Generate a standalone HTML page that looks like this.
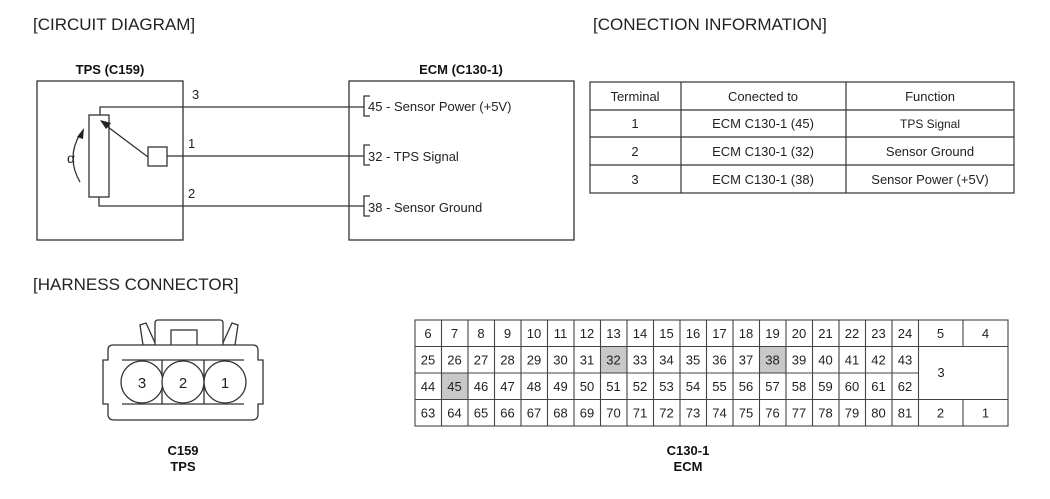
<!DOCTYPE html>
<html><head><meta charset="utf-8"><style>
html,body{margin:0;padding:0;background:#fff}
svg{display:block;font-family:"Liberation Sans",Arial,sans-serif}
</style></head><body>
<svg width="1050" height="499" viewBox="0 0 1050 499" xmlns="http://www.w3.org/2000/svg">
<g fill="#222" font-size="17">
<text x="33" y="30">[CIRCUIT DIAGRAM]</text>
<text x="593" y="30">[CONECTION INFORMATION]</text>
<text x="33" y="290">[HARNESS CONNECTOR]</text>
</g>
<g font-size="13" font-weight="bold" fill="#111" text-anchor="middle">
<text x="110" y="74">TPS (C159)</text>
<text x="461" y="74">ECM (C130-1)</text>
<text x="183" y="455">C159</text><text x="183" y="471">TPS</text>
<text x="688" y="455">C130-1</text><text x="688" y="471">ECM</text>
</g>
<g stroke="#333" stroke-width="1.3" fill="none">
<rect x="37" y="81" width="146" height="159"/>
<rect x="349" y="81" width="225" height="159"/>
<rect x="89" y="115" width="20" height="82"/>
<rect x="148" y="147" width="19" height="19"/>
<polyline points="100,115 100,107 364,107"/>
<line x1="167" y1="156" x2="364" y2="156"/>
<polyline points="99,197 99,206 364,206"/>
<polyline points="370,96 364,96 364,116 370,116"/>
<polyline points="370,145 364,145 364,165 370,165"/>
<polyline points="370,196 364,196 364,216 370,216"/>
<line x1="148" y1="157" x2="104" y2="124"/>
<path d="M80,182 Q66,158 80,134"/>
</g>
<polygon points="100,120 111,123 106,129" fill="#222"/>
<polygon points="77,137 84,128 83,139" fill="#222"/>
<g font-size="13" fill="#222">
<text x="192" y="99">3</text><text x="188" y="148">1</text><text x="188" y="198">2</text>
<text x="67" y="163" font-size="14">α</text>
<text x="368" y="111">45 - Sensor Power (+5V)</text>
<text x="368" y="161">32 - TPS Signal</text>
<text x="368" y="212">38 - Sensor Ground</text>
</g>
<g stroke="#333" stroke-width="1.2" fill="none">
<rect x="590" y="82" width="424" height="111"/>
<line x1="590" y1="110" x2="1014" y2="110"/>
<line x1="590" y1="137" x2="1014" y2="137"/>
<line x1="590" y1="165" x2="1014" y2="165"/>
<line x1="681" y1="82" x2="681" y2="193"/>
<line x1="846" y1="82" x2="846" y2="193"/>
</g>
<g font-size="13" fill="#222" text-anchor="middle">
<text x="635" y="101">Terminal</text><text x="763" y="101">Conected to</text><text x="930" y="101">Function</text>
<text x="635" y="128">1</text><text x="763" y="128">ECM C130-1 (45)</text><text x="930" y="128" font-size="12">TPS Signal</text>
<text x="635" y="156">2</text><text x="763" y="156">ECM C130-1 (32)</text><text x="930" y="156">Sensor Ground</text>
<text x="635" y="184">3</text><text x="763" y="184">ECM C130-1 (38)</text><text x="930" y="184">Sensor Power (+5V)</text>
</g>
<g stroke="#333" stroke-width="1.3" fill="#fff">
<path d="M143,345 L140,325 L146,323 L156,345 Z"/>
<path d="M222,345 L232,323 L238,325 L235,345 Z"/>
<path d="M155,345 L155,323 Q155,320 158,320 L220,320 Q223,320 223,323 L223,345"/>
<rect x="171" y="330" width="26" height="20"/>
<path d="M113,345 L253,345 Q258,345 258,350 L258,360 L263,360 L263,404 L258,404 L258,414 Q258,420 252,420 L114,420 Q108,420 108,414 L108,404 L103,404 L103,360 L108,360 L108,350 Q108,345 113,345 Z"/>
<line x1="162" y1="360" x2="162" y2="404"/><line x1="204" y1="360" x2="204" y2="404"/>
<line x1="122" y1="360" x2="244" y2="360"/><line x1="122" y1="404" x2="244" y2="404"/>
<circle cx="142" cy="382" r="21"/><circle cx="183" cy="382" r="21"/><circle cx="225" cy="382" r="21"/>
</g>
<g font-size="15" fill="#222" text-anchor="middle">
<text x="142" y="388">3</text><text x="183" y="388">2</text><text x="225" y="388">1</text>
</g>
<g fill="#c8c8c8">
<rect x="600.5" y="346.5" width="26.5" height="26.5"/>
<rect x="759.5" y="346.5" width="26.5" height="26.5"/>
<rect x="441.5" y="373" width="26.5" height="26.5"/>
</g>
<g stroke="#444" stroke-width="1.1" fill="none">
<rect x="415" y="320" width="593" height="106"/>
<line x1="415" y1="346.5" x2="918.5" y2="346.5"/>
<line x1="415" y1="373" x2="918.5" y2="373"/>
<line x1="415" y1="399.5" x2="1008" y2="399.5"/>
<line x1="918.5" y1="346.5" x2="1008" y2="346.5"/>
<path d="M441.5,320V426M468,320V426M494.5,320V426M521,320V426M547.5,320V426M574,320V426M600.5,320V426M627,320V426M653.5,320V426M680,320V426M706.5,320V426M733,320V426M759.5,320V426M786,320V426M812.5,320V426M839,320V426M865.5,320V426M892,320V426M918.5,320V426M963,320V346.5M963,399.5V426"/>
</g>
<g font-size="13" fill="#222" text-anchor="middle">
<text y="338"><tspan x="428">6</tspan><tspan x="454.5">7</tspan><tspan x="481">8</tspan><tspan x="507.5">9</tspan><tspan x="534">10</tspan><tspan x="560.5">11</tspan><tspan x="587">12</tspan><tspan x="613.5">13</tspan><tspan x="640">14</tspan><tspan x="666.5">15</tspan><tspan x="693">16</tspan><tspan x="719.5">17</tspan><tspan x="746">18</tspan><tspan x="772.5">19</tspan><tspan x="799">20</tspan><tspan x="825.5">21</tspan><tspan x="852">22</tspan><tspan x="878.5">23</tspan><tspan x="905">24</tspan><tspan x="940.5">5</tspan><tspan x="985.5">4</tspan></text>
<text y="364.5"><tspan x="428">25</tspan><tspan x="454.5">26</tspan><tspan x="481">27</tspan><tspan x="507.5">28</tspan><tspan x="534">29</tspan><tspan x="560.5">30</tspan><tspan x="587">31</tspan><tspan x="613.5">32</tspan><tspan x="640">33</tspan><tspan x="666.5">34</tspan><tspan x="693">35</tspan><tspan x="719.5">36</tspan><tspan x="746">37</tspan><tspan x="772.5">38</tspan><tspan x="799">39</tspan><tspan x="825.5">40</tspan><tspan x="852">41</tspan><tspan x="878.5">42</tspan><tspan x="905">43</tspan></text>
<text y="391"><tspan x="428">44</tspan><tspan x="454.5">45</tspan><tspan x="481">46</tspan><tspan x="507.5">47</tspan><tspan x="534">48</tspan><tspan x="560.5">49</tspan><tspan x="587">50</tspan><tspan x="613.5">51</tspan><tspan x="640">52</tspan><tspan x="666.5">53</tspan><tspan x="693">54</tspan><tspan x="719.5">55</tspan><tspan x="746">56</tspan><tspan x="772.5">57</tspan><tspan x="799">58</tspan><tspan x="825.5">59</tspan><tspan x="852">60</tspan><tspan x="878.5">61</tspan><tspan x="905">62</tspan></text>
<text y="417.5"><tspan x="428">63</tspan><tspan x="454.5">64</tspan><tspan x="481">65</tspan><tspan x="507.5">66</tspan><tspan x="534">67</tspan><tspan x="560.5">68</tspan><tspan x="587">69</tspan><tspan x="613.5">70</tspan><tspan x="640">71</tspan><tspan x="666.5">72</tspan><tspan x="693">73</tspan><tspan x="719.5">74</tspan><tspan x="746">75</tspan><tspan x="772.5">76</tspan><tspan x="799">77</tspan><tspan x="825.5">78</tspan><tspan x="852">79</tspan><tspan x="878.5">80</tspan><tspan x="905">81</tspan><tspan x="940.5">2</tspan><tspan x="985.5">1</tspan></text>
<text x="941" y="377">3</text>
</g>
</svg>
</body></html>
